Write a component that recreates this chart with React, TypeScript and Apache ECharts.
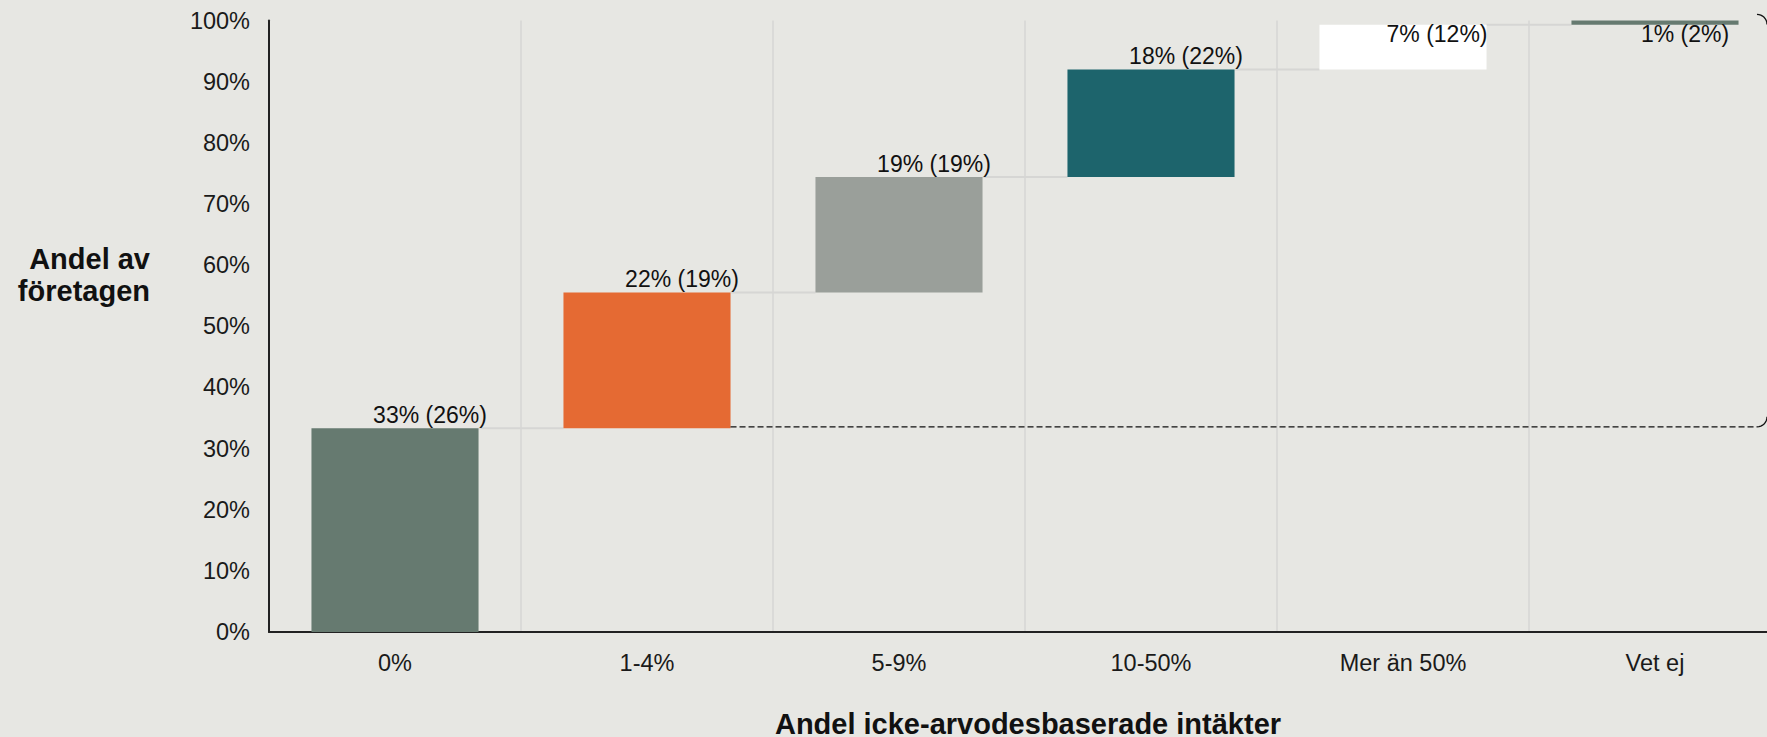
import React, { useEffect, useRef } from "react";
import * as echarts from "echarts";

const categories = ["0%", "1-4%", "5-9%", "10-50%", "Mer än 50%", "Vet ej"];
const shares = [33.3, 22.2, 18.9, 17.6, 7.3, 0.7];
const previousShares = [26, 19, 19, 22, 12, 2];
const barColors = ["#667a70", "#e56a33", "#9a9f9a", "#1d646c", "#ffffff", "#667a70"];
const yMin = 0;
const yMax = 100;
const yInterval = 10;
const xTitle = "Andel icke-arvodesbaserade intäkter";
const yTitle = "Andel av\nföretagen";

const FONT = "'Liberation Sans', Arial, Helvetica, sans-serif";
const BG = "#e7e7e3";
const BAR_RATIO = 0.663;

export default function App() {
  const ref = useRef<HTMLDivElement>(null);

  useEffect(() => {
    if (!ref.current) return;
    const chart = echarts.init(ref.current, undefined, { renderer: "svg" });

    const bases: number[] = [];
    const tops: number[] = [];
    let acc = 0;
    shares.forEach((v) => {
      bases.push(acc);
      acc += v;
      tops.push(acc);
    });

    const labelCfg = (i: number) => {
      if (i < 4) return { position: "top", distance: 2, offset: [35, 0] };
      if (i === 4) return { position: "insideTop", distance: 0, offset: [34, -2] };
      return { position: "insideTop", distance: 2, offset: [30, 0] };
    };

    const connectorData = tops.slice(0, tops.length - 1).map((t, i) => [i, t]);

    const cornerPoints = (W: number, yLine: number, dir: number) => {
      const r = 10;
      const cx = W - r;
      const pts: number[][] = [];
      const steps = 8;
      for (let k = 0; k <= steps; k++) {
        const a = (k / steps) * (Math.PI / 2);
        // from (cx, yLine) curving to (W, yLine + dir*r)
        pts.push([cx + r * Math.sin(a), yLine + dir * r * (1 - Math.cos(a))]);
      }
      return pts;
    };

    chart.setOption({
      animation: false,
      backgroundColor: BG,
      textStyle: { fontFamily: FONT },
      grid: {
        left: 269,
        top: 20.5,
        width: 1512,
        height: 611.5,
        containLabel: false,
        outerBoundsMode: "none",
      },
      xAxis: {
        type: "category",
        data: categories,
        axisLine: { show: true, lineStyle: { color: "#222", width: 2 } },
        axisTick: { show: false },
        axisLabel: { color: "#1a1a1a", fontSize: 23.5, margin: 19, fontFamily: FONT, interval: 0 },
        splitLine: { show: true, interval: 0, lineStyle: { color: "#d6d6d4", width: 1.5 } },
      },
      yAxis: {
        type: "value",
        min: yMin,
        max: yMax,
        interval: yInterval,
        axisLine: { show: true, lineStyle: { color: "#222", width: 2 } },
        axisTick: { show: false },
        splitLine: { show: false },
        axisLabel: { color: "#1a1a1a", fontSize: 23.5, margin: 19, fontFamily: FONT, formatter: "{value}%" },
      },
      graphic: [
        {
          type: "text",
          x: 150,
          y: 275,
          style: {
            text: yTitle,
            font: `bold 29px ${FONT}`,
            fill: "#111",
            align: "right",
            verticalAlign: "middle",
            lineHeight: 32,
          },
        },
        {
          type: "text",
          x: 1028,
          y: 724,
          style: {
            text: xTitle,
            font: `bold 29px ${FONT}`,
            fill: "#111",
            align: "center",
            verticalAlign: "middle",
          },
        },
      ],
      series: [
        {
          type: "bar",
          stack: "total",
          barWidth: `${BAR_RATIO * 100}%`,
          silent: true,
          itemStyle: { color: "transparent" },
          data: bases,
        },
        {
          type: "bar",
          stack: "total",
          barWidth: `${BAR_RATIO * 100}%`,
          data: shares.map((v, i) => ({
            value: v,
            itemStyle: { color: barColors[i] },
            label: {
              show: true,
              ...labelCfg(i),
              formatter: `${Math.round(v)}% (${previousShares[i]}%)`,
              color: "#111",
              fontSize: 23,
              fontFamily: FONT,
            },
          })),
          z: 3,
        },
        {
          type: "custom",
          silent: true,
          z: 2,
          data: connectorData,
          renderItem: (params: any, api: any) => {
            const i = api.value(0);
            const lvl = api.value(1);
            const p = api.coord([i, lvl]);
            const cw = api.size([1, 0])[0];
            const bw = cw * BAR_RATIO;
            return {
              type: "line",
              shape: { x1: p[0] + bw / 2, y1: p[1], x2: p[0] + cw - bw / 2, y2: p[1] },
              style: { stroke: "#d6d6d4", lineWidth: 2 },
            };
          },
        },
        {
          type: "custom",
          silent: true,
          z: 4,
          data: [[1, tops[0]]],
          renderItem: (params: any, api: any) => {
            const i = api.value(0);
            const lvl = api.value(1);
            const p = api.coord([i, lvl]);
            const cw = api.size([1, 0])[0];
            const bw = cw * BAR_RATIO;
            const W = api.getWidth();
            return {
              type: "line",
              shape: { x1: p[0] + bw / 2, y1: p[1] - 1.5, x2: W - 10, y2: p[1] - 1.5 },
              style: { stroke: "#111", lineWidth: 1.3, lineDash: [6, 3] },
            };
          },
        },
        {
          type: "custom",
          silent: true,
          z: 4,
          data: [[1, tops[0]]],
          renderItem: (params: any, api: any) => {
            const p = api.coord([api.value(0), api.value(1)]);
            return {
              type: "polyline",
              shape: { points: cornerPoints(api.getWidth(), p[1] - 1.5, -1) },
              style: { stroke: "#111", lineWidth: 1.3, fill: null },
            };
          },
        },
        {
          type: "custom",
          silent: true,
          z: 4,
          data: [[1, yMax + 1]],
          renderItem: (params: any, api: any) => {
            const p = api.coord([api.value(0), api.value(1)]);
            return {
              type: "polyline",
              shape: { points: cornerPoints(api.getWidth(), p[1], 1) },
              style: { stroke: "#111", lineWidth: 1.3, fill: null },
            };
          },
        },
      ],
    });

    return () => chart.dispose();
  }, []);

  return (
    <div
      ref={ref}
      style={{ position: "fixed", left: 0, top: 0, width: 1767, height: 737, background: BG }}
    />
  );
}
